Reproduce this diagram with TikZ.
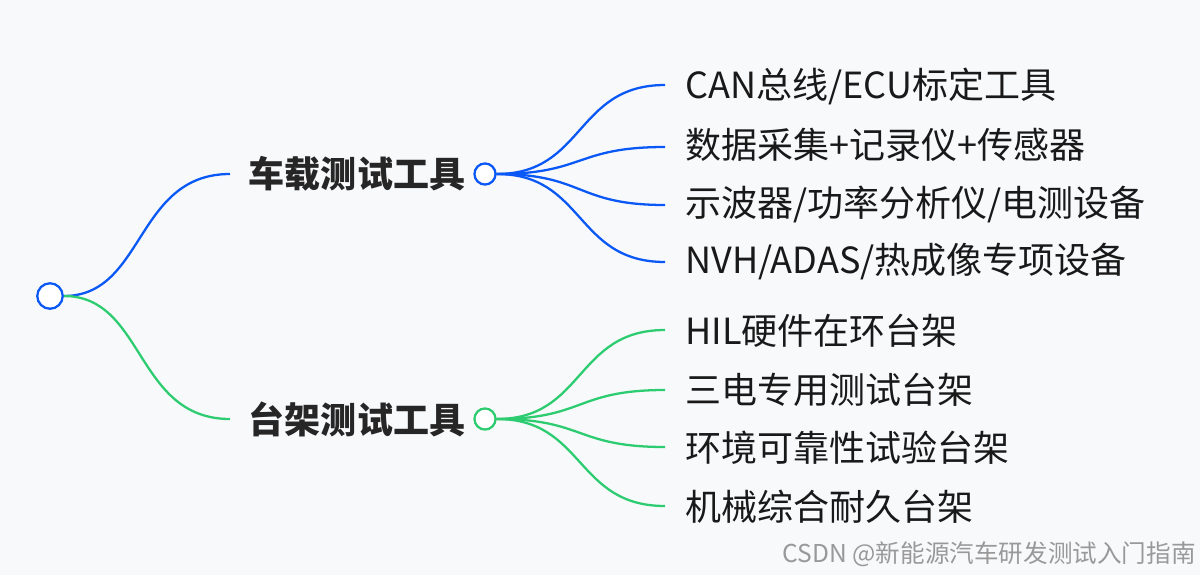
\documentclass[tikz,border=0pt]{standalone}
\usepackage{fontspec}
\setmainfont{Noto Sans CJK SC}
\usepackage{tikz}
\definecolor{bluebr}{RGB}{10,88,245}
\definecolor{greenbr}{RGB}{46,204,113}
\definecolor{bgcol}{RGB}{248,249,251}
\tikzset{
	leaf/.style={anchor=west, inner sep=0pt, font=\fontsize{20.5}{24}\selectfont, text=black!90},
	branch/.style={anchor=center, inner sep=0pt, font=\fontsize{20.5}{24}\selectfont\bfseries, text=black!85},
	dot/.style={circle, draw, line width=1.3pt, fill=white, minimum size=#1, inner sep=0pt},
	conn/.style={line width=1.3pt}
}

\begin{document}
\begin{tikzpicture}[x=0.02cm, y=-0.02cm]
	\fill[bgcol] (0,0) rectangle (1200,575);
	\useasboundingbox (0,0) rectangle (1200,575);
	% branch ends and leaf ends
	\coordinate (b1) at (230,174);
	\coordinate (b2) at (230,419);
	\coordinate (l1) at (665,85);
	\coordinate (l2) at (665,147);
	\coordinate (l3) at (665,205);
	\coordinate (l4) at (665,262);
	\coordinate (l5) at (665,330);
	\coordinate (l6) at (665,390);
	\coordinate (l7) at (665,447);
	\coordinate (l8) at (665,506);
	\node[dot=14.5pt, draw=bluebr] (root) at (50,296) {};
	\node[dot=12pt, draw=bluebr] (c1) at (485,174) {};
	\node[dot=12pt, draw=greenbr] (c2) at (485,419) {};
	\draw[conn, bluebr] (root.east) .. controls (145,296) and (135,174) .. (b1);
	\draw[conn, greenbr] (root.east) .. controls (145,296) and (135,419) .. (b2);
	\draw[conn, bluebr] (c1.east) .. controls (585,174) and (575,85) .. (l1);
	\draw[conn, bluebr] (c1.east) .. controls (585,174) and (575,147) .. (l2);
	\draw[conn, bluebr] (c1.east) .. controls (585,174) and (575,205) .. (l3);
	\draw[conn, bluebr] (c1.east) .. controls (585,174) and (575,262) .. (l4);
	\draw[conn, greenbr] (c2.east) .. controls (585,419) and (575,330) .. (l5);
	\draw[conn, greenbr] (c2.east) .. controls (585,419) and (575,390) .. (l6);
	\draw[conn, greenbr] (c2.east) .. controls (585,419) and (575,447) .. (l7);
	\draw[conn, greenbr] (c2.east) .. controls (585,419) and (575,506) .. (l8);
	% labels
	\node[branch] (t1) at (357,174) {车载测试工具};
	\node[branch] (t2) at (357,419) {台架测试工具};
	\node[leaf] at (685,86) {CAN总线/ECU标定工具};
	\node[leaf] at (685,145) {数据采集+记录仪+传感器};
	\node[leaf] at (685,204) {示波器/功率分析仪/电测设备};
	\node[leaf] at (685,262) {NVH/ADAS/热成像专项设备};
	\node[leaf] at (685,331) {HIL硬件在环台架};
	\node[leaf] at (685,390) {三电专用测试台架};
	\node[leaf] at (685,448) {环境可靠性试验台架};
	\node[leaf] at (685,507) {机械综合耐久台架};
	\node[anchor=east, inner sep=0pt, font=\fontsize{14}{16}\selectfont, text=black!40] (mark) at (1196,554) {CSDN @新能源汽车研发测试入门指南};
\end{tikzpicture}
\end{document}
